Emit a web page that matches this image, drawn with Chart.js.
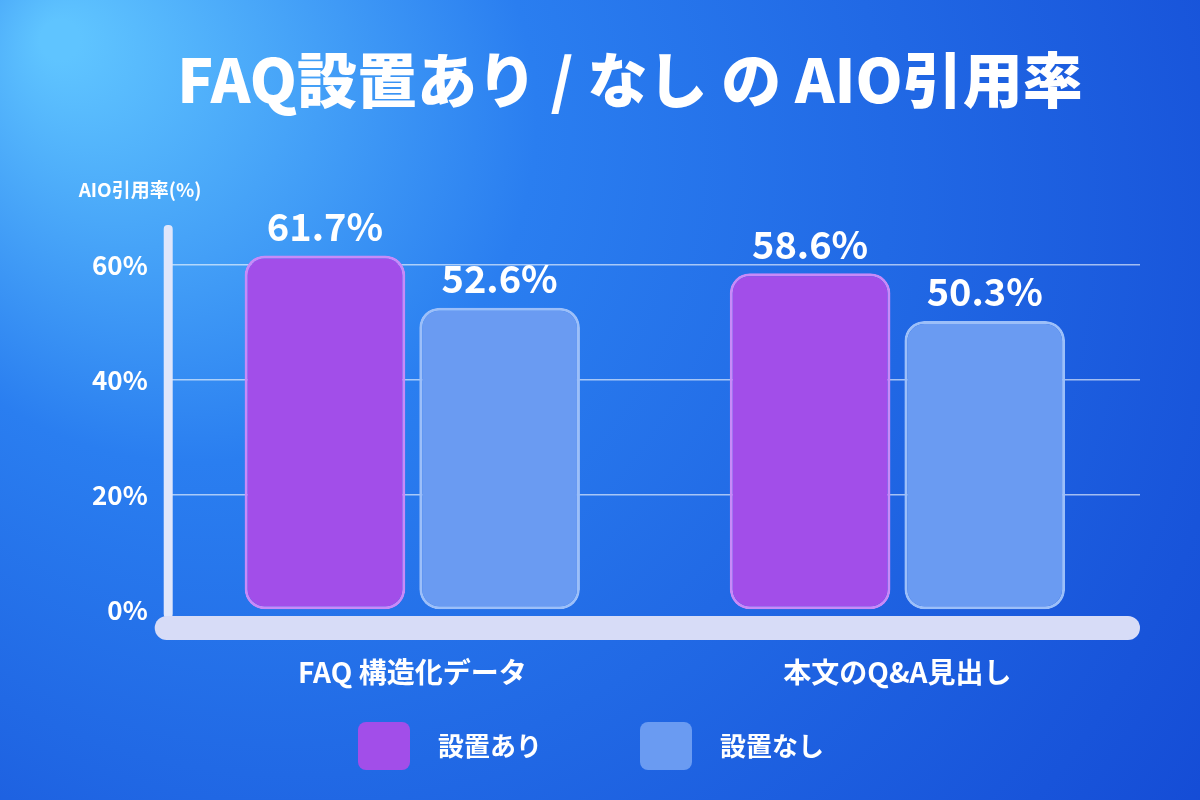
<!DOCTYPE html>
<html><head><meta charset="utf-8">
<script src="https://cdn.jsdelivr.net/npm/chart.js@4"></script>
<style>html,body{margin:0;padding:0;background:#1a5de0;}canvas{display:block;}</style>
</head><body>
<canvas id="c" width="1200" height="800"></canvas>
<script>
const categories = ['FAQ 構造化データ', '本文のQ&A見出し'];
const seriesNames = ['設置あり', '設置なし'];
const withFaq = [61.7, 58.6];
const withoutFaq = [52.6, 50.3];
const yTicks = [0, 20, 40, 60];
const FONT = '"Noto Sans CJK JP", "Noto Sans", sans-serif';
const barColors = ['#a24ee9', '#6a9bf2'];

const decor = {
    id: 'decor',
    beforeDraw(chart) {
        const c = chart.ctx;
        const g = c.createRadialGradient(60, 40, 20, 500, 300, 1100);
        g.addColorStop(0, '#5fc4ff');
        g.addColorStop(0.3, '#2a7ef0');
        g.addColorStop(1, '#0f3fcf');
        c.fillStyle = g;
        c.fillRect(0, 0, chart.width, chart.height);
        c.fillStyle = '#fff';
        c.textAlign = 'center';
        c.textBaseline = 'middle';
        c.font = `900 60px ${FONT}`;
        c.fillText('FAQ設置あり / なし の AIO引用率', 630, 80);
        c.font = `bold 19px ${FONT}`;
        c.fillText('AIO引用率(%)', 140, 190);
    },
    beforeDatasetsDraw(chart) {
        const c = chart.ctx, a = chart.chartArea;
        c.fillStyle = '#dfe6fb';
        c.beginPath();
        c.roundRect(a.left - 6, a.top, 9, a.bottom - a.top + 8, 4);
        c.fill();
        c.fillStyle = '#d7dcf7';
        c.beginPath();
        c.roundRect(a.left - 15, a.bottom + 6, a.right - a.left + 15, 24, 12);
        c.fill();
    },
    afterDatasetsDraw(chart) {
        const c = chart.ctx;
        c.fillStyle = '#fff';
        c.textAlign = 'center';
        c.textBaseline = 'bottom';
        c.font = `bold 38px ${FONT}`;
        chart.data.datasets.forEach((ds, i) => {
            chart.getDatasetMeta(i).data.forEach((bar, j) => {
                c.fillText(ds.data[j].toFixed(1) + '%', bar.x, bar.y - 10);
            });
        });
        const xs = chart.scales.x;
        c.textBaseline = 'middle';
        c.font = `bold 28px ${FONT}`;
        categories.forEach((cat, j) => c.fillText(cat, xs.getPixelForValue(j), 672));
        c.textAlign = 'left';
        c.font = `bold 26px ${FONT}`;
        const lx = [358, 640];
        seriesNames.forEach((n, i) => {
            c.fillStyle = barColors[i];
            c.beginPath();
            c.roundRect(lx[i], 722, 52, 48, 8);
            c.fill();
            c.fillStyle = '#fff';
            c.fillText(n, lx[i] + 80, 746);
        });
    }
};

new Chart(document.getElementById('c'), {
    type: 'bar',
    data: {
        labels: categories,
        datasets: [
            { label: seriesNames[0], data: withFaq, backgroundColor: barColors[0], borderColor: '#c88af8', borderWidth: 3, borderRadius: 20, borderSkipped: false },
            { label: seriesNames[1], data: withoutFaq, backgroundColor: barColors[1], borderColor: '#9cbff9', borderWidth: 3, borderRadius: 20, borderSkipped: false }
        ]
    },
    options: {
        responsive: false,
        animation: false,
        layout: { padding: { top: 225, left: 70, right: 60, bottom: 190 } },
        plugins: { legend: { display: false }, tooltip: { enabled: false } },
        datasets: { bar: { categoryPercentage: 0.72, barPercentage: 0.92 } },
        scales: {
            x: { display: false, offset: true },
            y: {
                min: 0, max: 67,
                afterBuildTicks: s => { s.ticks = yTicks.map(v => ({ value: v })); },
                border: { display: false },
                grid: { color: ctx => ctx.tick.value === 0 ? 'rgba(0,0,0,0)' : 'rgba(255,255,255,0.6)', lineWidth: 1.5, borderDash: [2, 3], drawTicks: false },
                ticks: { color: '#fff', padding: 22, font: { family: FONT, size: 26, weight: 'bold' }, callback: v => v + '%' }
            }
        }
    },
    plugins: [decor]
});
</script>
</body></html>
